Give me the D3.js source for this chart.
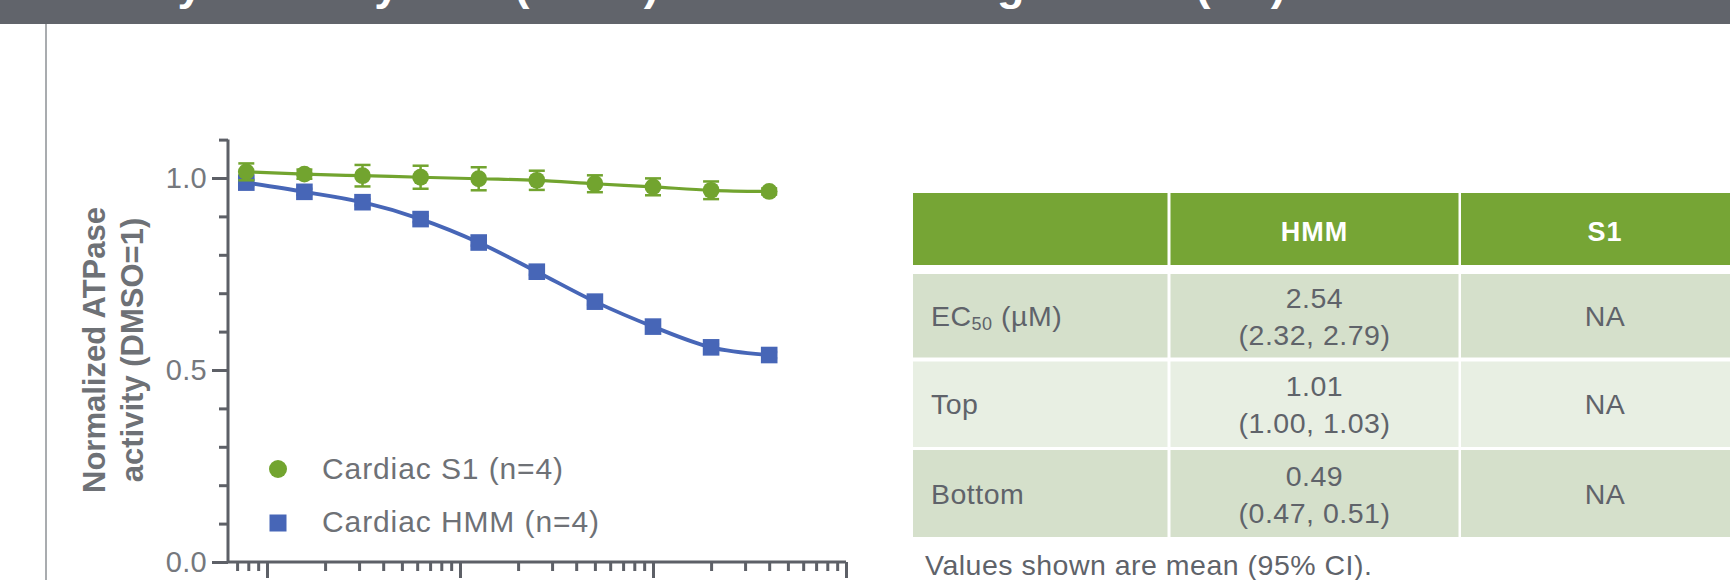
<!DOCTYPE html>
<html>
<head>
<meta charset="utf-8">
<script src="https://cdn.jsdelivr.net/npm/d3@7"></script>
<style>
  html, body { margin: 0; padding: 0; background: #ffffff; overflow: hidden; }
  svg { display: block; font-family: "Liberation Sans", Arial, sans-serif; }
</style>
</head>
<body>
<svg id="fig" width="1730" height="580"></svg>
<script>
// ---- data ----
const concentrations = [0.078125, 0.15625, 0.3125, 0.625, 1.25, 2.5, 5, 10, 20, 40]; // µM
const s1Mean = [1.016, 1.010, 1.006, 1.002, 0.998, 0.994, 0.985, 0.977, 0.968, 0.965];
const s1Err  = [0.022, 0.012, 0.028, 0.030, 0.030, 0.025, 0.022, 0.022, 0.023, 0.008];
const hmmMean = [0.988, 0.964, 0.937, 0.893, 0.832, 0.756, 0.678, 0.613, 0.559, 0.539];
const hmmErr  = [0.008, 0.008, 0.008, 0.008, 0.008, 0.008, 0.008, 0.008, 0.008, 0.008];
const seriesNames = ["Cardiac S1 (n=4)", "Cardiac HMM (n=4)"];
const yMajorTicks = [0, 0.5, 1.0];
const yMinorTicks = [0.1, 0.2, 0.3, 0.4, 0.6, 0.7, 0.8, 0.9, 1.1];
const xMajorTicks = [0.1, 1, 10, 100];
const xMinorTicks = [0.07, 0.08, 0.09, 0.2, 0.3, 0.4, 0.5, 0.6, 0.7, 0.8, 0.9,
                     2, 3, 4, 5, 6, 7, 8, 9, 20, 30, 40, 50, 60, 70, 80, 90];
const yTitleLines = ["Normalized ATPase", "activity (DMSO=1)"];
const titleText = "Heavy Meromyosin (HMM) versus Subfragment 1 (S1)";
const tableHeader = ["", "HMM", "S1"];
const tableRowLabels = ["EC", "Top", "Bottom"];
const hmmParams = [["2.54", "(2.32, 2.79)"], ["1.01", "(1.00, 1.03)"], ["0.49", "(0.47, 0.51)"]];
const s1Params = ["NA", "NA", "NA"];
const footnote = "Values shown are mean (95% CI).";

// ---- palette ----
const GREEN = "#72a42f";
const BLUE = "#4766b7";
const AXIS = "#5d6067";
const TEXT = "#6e7176";
const TABLE_TEXT = "#5f636a";

const svg = d3.select("#fig");

// header band and frame
svg.append("rect").attr("x", 0).attr("y", 0).attr("width", 1730).attr("height", 24).attr("fill", "#61646b");
svg.append("text").attr("x", 63).attr("y", 0)
  .attr("fill", "#ffffff").attr("font-weight", "bold").attr("font-size", 45)
  .attr("letter-spacing", 1.7).text(titleText);
svg.append("line").attr("x1", 46).attr("x2", 46).attr("y1", 24).attr("y2", 580)
  .attr("stroke", "#8d9094").attr("stroke-width", 1.5);

// ---- chart ----
const x = d3.scaleLog().domain([0.0628, 100]).range([228, 846]);
const y = d3.scaleLinear().domain([0, 1.1]).range([562, 139.6]);

const chart = svg.append("g");

function styleAxis(g) {
  g.selectAll("path.domain").attr("stroke", AXIS).attr("stroke-width", 3);
  g.selectAll(".tick line").attr("stroke", AXIS).attr("stroke-width", 3);
  g.selectAll(".tick text").attr("fill", "#75787d").attr("font-size", 29)
    .attr("letter-spacing", 0.3).attr("font-family", "Liberation Sans, Arial, sans-serif");
}

// y minor ticks, then major ticks with labels and axis line
chart.append("g").attr("transform", "translate(228,0)")
  .call(d3.axisLeft(y).tickValues(yMinorTicks).tickSize(9).tickSizeOuter(0).tickFormat(""))
  .call(styleAxis).call(g => g.select("path.domain").remove());
chart.append("g").attr("transform", "translate(228,0)")
  .call(d3.axisLeft(y).tickValues(yMajorTicks).tickSize(16).tickSizeOuter(0)
    .tickPadding(5).tickFormat(d3.format(".1f")))
  .call(styleAxis)
  .call(g => g.select("path.domain").attr("d", `M0,${y(1.1)}V${y(0)}`));

// x minor ticks, major ticks, axis line (labels fall below the visible area)
chart.append("g").attr("transform", "translate(0,562)")
  .call(d3.axisBottom(x).tickValues(xMinorTicks).tickSize(9).tickSizeOuter(0).tickFormat(""))
  .call(styleAxis).call(g => g.select("path.domain").remove());
chart.append("g").attr("transform", "translate(0,562)")
  .call(d3.axisBottom(x).tickValues(xMajorTicks).tickSize(16).tickSizeOuter(0).tickFormat(""))
  .call(styleAxis)
  .call(g => g.select("path.domain").attr("d", `M${x.range()[0]},0H${x.range()[1]}`));

// y axis title (two lines, rotated)
const yTitle = chart.append("text")
  .attr("transform", "translate(0,350) rotate(-90)")
  .attr("text-anchor", "middle").attr("fill", TEXT)
  .attr("font-size", 31).attr("font-weight", "bold");
yTitle.selectAll("tspan").data(yTitleLines).join("tspan")
  .attr("x", 0).attr("y", (d, i) => 105 + i * 38).text(d => d);

// series
const hmm = concentrations.map((c, i) => ({ c, v: hmmMean[i], e: hmmErr[i] }));
const s1 = concentrations.map((c, i) => ({ c, v: s1Mean[i], e: s1Err[i] }));
const line = d3.line().x(d => x(d.c)).y(d => y(d.v)).curve(d3.curveMonotoneX);

function errorBars(data, color) {
  const g = chart.append("g").attr("stroke", color).attr("stroke-width", 2.5);
  g.selectAll("line.v").data(data).join("line").attr("class", "v")
    .attr("x1", d => x(d.c)).attr("x2", d => x(d.c))
    .attr("y1", d => y(d.v + d.e)).attr("y2", d => y(d.v - d.e));
  [1, -1].forEach(s => {
    g.selectAll("line.c" + (s > 0 ? "t" : "b")).data(data).join("line")
      .attr("class", "c" + (s > 0 ? "t" : "b"))
      .attr("x1", d => x(d.c) - 8).attr("x2", d => x(d.c) + 8)
      .attr("y1", d => y(d.v + s * d.e)).attr("y2", d => y(d.v + s * d.e));
  });
}

// HMM (blue squares)
chart.append("path").datum(hmm).attr("d", line)
  .attr("fill", "none").attr("stroke", BLUE).attr("stroke-width", 3.8);
errorBars(hmm, BLUE);
chart.append("g").selectAll("rect").data(hmm).join("rect")
  .attr("x", d => x(d.c) - 8.3).attr("y", d => y(d.v) - 8.3)
  .attr("width", 16.6).attr("height", 16.6).attr("fill", BLUE);

// S1 (green circles)
chart.append("path").datum(s1).attr("d", line)
  .attr("fill", "none").attr("stroke", GREEN).attr("stroke-width", 3.2);
errorBars(s1, GREEN);
chart.append("g").selectAll("circle").data(s1).join("circle")
  .attr("cx", d => x(d.c)).attr("cy", d => y(d.v)).attr("r", 8.4).attr("fill", GREEN);

// legend
const legend = chart.append("g");
legend.append("circle").attr("cx", 278).attr("cy", 469).attr("r", 9).attr("fill", GREEN);
legend.append("rect").attr("x", 269.5).attr("y", 514.5).attr("width", 17).attr("height", 17).attr("fill", BLUE);
legend.selectAll("text").data(seriesNames).join("text")
  .attr("x", 322).attr("y", (d, i) => 479 + i * 53)
  .attr("fill", TEXT).attr("font-size", 30).attr("letter-spacing", 0.9)
  .text(d => d);

// ---- parameter table ----
const colX = [913, 1170.5, 1461];
const colW = [254.5, 288, 288];
const rowY = [193, 274, 361.5, 450];
const rowH = [72, 83.5, 85.5, 87];
const rowFill = ["#76a535", "#d5e0cb", "#e8efe3", "#d5e0cb"];

const table = svg.append("g");
for (let r = 0; r < 4; r++) {
  for (let c = 0; c < 3; c++) {
    table.append("rect").attr("x", colX[c]).attr("y", rowY[r])
      .attr("width", colW[c]).attr("height", rowH[r]).attr("fill", rowFill[r]);
  }
}
// header labels
table.selectAll("text.hdr").data(tableHeader).join("text").attr("class", "hdr")
  .attr("x", (d, i) => colX[i] + colW[i] / 2).attr("y", 241)
  .attr("text-anchor", "middle").attr("fill", "#ffffff")
  .attr("font-weight", "bold").attr("font-size", 27).attr("letter-spacing", 1)
  .text(d => d);

const bodyFont = { size: 28.5, spacing: 0.5 };
function bodyText(sel) {
  return sel.attr("fill", TABLE_TEXT).attr("font-size", bodyFont.size)
    .attr("letter-spacing", bodyFont.spacing);
}
// row labels
tableRowLabels.forEach((lab, r) => {
  const cy = rowY[r + 1] + rowH[r + 1] / 2;
  const t = bodyText(table.append("text")).attr("x", 931).attr("y", cy + 10);
  t.append("tspan").text(lab);
  if (r === 0) {
    t.append("tspan").attr("font-size", 18).attr("dy", 4).text("50");
    t.append("tspan").attr("dy", -4).text(" (µM)");
  }
});
// HMM estimates with confidence intervals
hmmParams.forEach((vals, r) => {
  const cy = rowY[r + 1] + rowH[r + 1] / 2;
  bodyText(table.append("text")).attr("text-anchor", "middle")
    .attr("x", colX[1] + colW[1] / 2).attr("y", cy - 8).text(vals[0]);
  bodyText(table.append("text")).attr("text-anchor", "middle")
    .attr("x", colX[1] + colW[1] / 2).attr("y", cy + 29).text(vals[1]);
});
// S1 estimates
s1Params.forEach((v, r) => {
  const cy = rowY[r + 1] + rowH[r + 1] / 2;
  bodyText(table.append("text")).attr("text-anchor", "middle")
    .attr("x", colX[2] + colW[2] / 2).attr("y", cy + 10).text(v);
});
// footnote
bodyText(table.append("text")).attr("x", 925).attr("y", 575).text(footnote);
</script>
</body>
</html>
